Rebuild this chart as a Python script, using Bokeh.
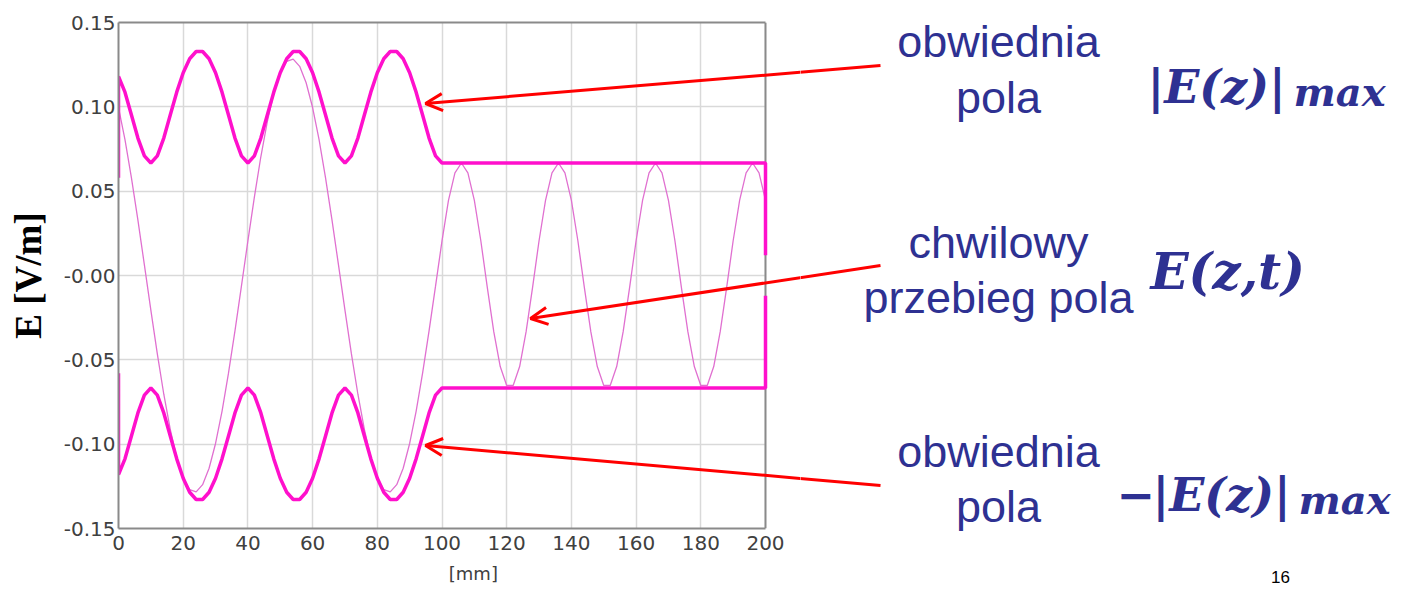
from bokeh.plotting import figure
from bokeh.layouts import row
from bokeh.models import (Label, Arrow, OpenHead, FixedTicker, Range1d, LinearAxis,
                          Span, BoxAnnotation)
from bokeh.embed import file_html
from bokeh.resources import INLINE

# ---------------- data ----------------
x_ticks = [0, 20, 40, 60, 80, 100, 120, 140, 160, 180, 200]
y_ticks = [-0.15, -0.10, -0.05, 0.0, 0.05, 0.10, 0.15]
y_tick_labels = ["-0.15", "-0.10", "-0.05", "-0.00", "0.05", "0.10", "0.15"]
x_unit_label = "[mm]"
x_unit_pos = 109.7   # z position under which the unit label sits
z_min, z_max = 0, 200
e_min, e_max = -0.15, 0.15

# position along the line [mm]
z_env = [0, 0, 2, 4, 6, 8, 10, 12, 14, 16, 18, 20, 22, 24, 26, 28,
         30, 32, 34, 36, 38, 40, 42, 44, 46, 48, 50, 52, 54, 56, 58,
         60, 62, 64, 66, 68, 70, 72, 74, 76, 78, 80, 82, 84, 86, 88,
         90, 92, 94, 96, 98, 100, 200, 200]
# envelope |E(z)|max [V/m]
env_upper = [0.058, 0.1180, 0.1087, 0.0951, 0.0815, 0.0709, 0.0667, 0.0709, 0.0815, 0.0951, 0.1087,
             0.1202, 0.1285, 0.1328, 0.1328, 0.1285,
             0.1202, 0.1087, 0.0951, 0.0815, 0.0709, 0.0667, 0.0709, 0.0815, 0.0951, 0.1087,
             0.1202, 0.1285, 0.1328, 0.1328, 0.1285,
             0.1202, 0.1087, 0.0951, 0.0815, 0.0709, 0.0667, 0.0709, 0.0815, 0.0951, 0.1087,
             0.1202, 0.1285, 0.1328, 0.1328, 0.1285,
             0.1202, 0.1087, 0.0951, 0.0815, 0.0709, 0.0667, 0.0667, 0.012]
env_lower = [-v for v in env_upper]

# instantaneous field E(z,t) [V/m]
z_inst = [0, 2, 4, 6, 8, 10, 12, 14, 16, 18, 20, 22, 24, 26, 28, 30, 32, 34, 36, 38,
          40, 42, 44, 46, 48, 50, 52, 54, 56, 58, 60, 62, 64, 66, 68, 70, 72, 74, 76, 78,
          80, 82, 84, 86, 88, 90, 92, 94, 96, 98, 100, 102, 104, 106, 108, 110, 112, 114, 116, 118,
          120, 122, 124, 126, 128, 130, 132, 134, 136, 138, 140, 142, 144, 146, 148, 150, 152, 154, 156, 158,
          160, 162, 164, 166, 168, 170, 172, 174, 176, 178, 180, 182, 184, 186, 188, 190, 192, 194, 196, 198, 200]
e_inst = [0.0996, 0.0805, 0.0579, 0.0328, 0.0063, -0.0205, -0.0465, -0.0704, -0.0912, -0.1080,
          -0.1201, -0.1270, -0.1283, -0.1240, -0.1143, -0.0996, -0.0805, -0.0579, -0.0328, -0.0063,
          0.0205, 0.0465, 0.0704, 0.0912, 0.1080, 0.1201, 0.1270, 0.1283, 0.1240, 0.1143,
          0.0996, 0.0805, 0.0579, 0.0328, 0.0063, -0.0205, -0.0465, -0.0704, -0.0912, -0.1080,
          -0.1201, -0.1270, -0.1283, -0.1240, -0.1143, -0.0996, -0.0805, -0.0579, -0.0328, -0.0063,
          0.0205,
          0.0446, 0.0609, 0.0667, 0.0609, 0.0446, 0.0206, -0.0070, -0.0333, -0.0540, -0.0652,
          -0.0652, -0.0540, -0.0333, -0.0070, 0.0206,
          0.0446, 0.0609, 0.0667, 0.0609, 0.0446, 0.0206, -0.0070, -0.0333, -0.0540, -0.0652,
          -0.0652, -0.0540, -0.0333, -0.0070, 0.0206,
          0.0446, 0.0609, 0.0667, 0.0609, 0.0446, 0.0206, -0.0070, -0.0333, -0.0540, -0.0652,
          -0.0652, -0.0540, -0.0333, -0.0070, 0.0206,
          0.0446, 0.0609, 0.0667, 0.0609, 0.0446]

# ---------------- layout helpers (page pixels -> data) ----------------
H = 586
X0, XPX = 118.0, 3.235          # page px of z=0, px per mm
Y0, YPX = 22.0, 1686.7          # page px of E=0.15, px per V/m
SPLIT = 800                     # page x where the chart canvas ends


def dx(px):
    return (px - X0) / XPX


def dy(py):
    return 0.15 - (py - Y0) / YPX


GRAY = "#8a8a8a"
TICKFONT = "DejaVu Sans"
TICKCOL = "#404040"

# ---------------- main chart ----------------
p = figure(frame_width=SPLIT - 118, frame_height=506,
           min_border_left=118, min_border_right=0,
           min_border_top=22, min_border_bottom=H - 22 - 506,
           x_range=Range1d(z_min, dx(SPLIT)), y_range=Range1d(e_min, e_max),
           output_backend="svg", toolbar_location=None)
p.frame_align = False
p.background_fill_color = "white"
p.border_fill_color = "white"
p.outline_line_color = None

for ax in (p.xaxis, p.yaxis):
    ax.axis_line_color = GRAY
    ax.axis_line_width = 2
    ax.major_tick_in = 0
    ax.major_tick_out = 0
    ax.minor_tick_line_color = None
    ax.major_label_text_font = TICKFONT
    ax.major_label_text_font_size = "20px"
    ax.major_label_text_color = TICKCOL

p.xaxis.bounds = (z_min, z_max)
p.xaxis.ticker = FixedTicker(ticks=x_ticks)
p.yaxis.ticker = FixedTicker(ticks=y_ticks)
p.yaxis.major_label_overrides = dict(zip(y_ticks, y_tick_labels))
p.xaxis.major_label_standoff = 7
p.yaxis.major_label_standoff = 3

p.yaxis.axis_label = "E [V/m]"
p.yaxis.axis_label_text_font = "Liberation Serif"
p.yaxis.axis_label_text_font_style = "bold"
p.yaxis.axis_label_text_font_size = "37px"
p.yaxis.axis_label_text_color = "black"
p.yaxis.axis_label_standoff = 12

# top border of the plot area
top_axis = LinearAxis(ticker=FixedTicker(ticks=[]), bounds=(z_min, z_max))
top_axis.axis_line_color = GRAY
top_axis.axis_line_width = 2
top_axis.major_tick_line_color = None
top_axis.minor_tick_line_color = None
p.add_layout(top_axis, "above")

# unit label as a second, line-less axis under the first one
unit_axis = LinearAxis(ticker=FixedTicker(ticks=[x_unit_pos]),
                       major_label_overrides={x_unit_pos: x_unit_label})
unit_axis.axis_line_color = None
unit_axis.major_tick_line_color = None
unit_axis.minor_tick_line_color = None
unit_axis.major_label_text_font = TICKFONT
unit_axis.major_label_text_font_size = "18px"
unit_axis.major_label_text_color = TICKCOL
unit_axis.major_label_standoff = 4
p.add_layout(unit_axis, "below")

p.xgrid.grid_line_color = "#d9d9d9"
p.ygrid.grid_line_color = "#d9d9d9"
p.xgrid.grid_line_width = 1.5
p.ygrid.grid_line_width = 1.5

# white out the grid right of the plot area, then the right border
p.add_layout(BoxAnnotation(left=z_max, fill_color="white", fill_alpha=1.0,
                           line_color=None, level="underlay"))
p.add_layout(Span(location=z_max, dimension="height", line_color=GRAY,
                  line_width=2, level="underlay"))

# curves
p.line(z_inst, e_inst, line_color="#e070d0", line_width=1.3)
p.line(z_env, env_upper, line_color="#ff10cc", line_width=3.5)
p.line(z_env, env_lower, line_color="#ff10cc", line_width=3.5)

# arrows: (start x, start y, tip x, tip y) in page pixels
arrows = [(880, 65, 425, 103), (880, 265, 530, 318), (880, 485, 425, 445)]


def y_at(a, x):
    x1, y1, x2, y2 = a
    return y1 + (x1 - x) / (x1 - x2) * (y2 - y1)


RED = "#ff0000"
for a in arrows:
    ym = y_at(a, SPLIT + 1)
    p.add_layout(Arrow(end=OpenHead(size=17, line_color=RED, line_width=3),
                       x_start=dx(SPLIT + 1), y_start=dy(ym), x_end=dx(a[2]), y_end=dy(a[3]),
                       line_color=RED, line_width=3))

# ---------------- annotation panel (page pixel coordinates) ----------------
q = figure(width=1400 - SPLIT, height=H,
           x_range=Range1d(SPLIT, 1400), y_range=Range1d(H, 0),
           min_border=0, x_axis_location=None, y_axis_location=None,
           output_backend="svg", toolbar_location=None)
q.frame_align = False
q.outline_line_color = None
q.grid.visible = False
q.background_fill_color = "white"
q.border_fill_color = "white"

for a in arrows:
    ym = y_at(a, SPLIT - 2)
    q.add_layout(Arrow(end=None, x_start=a[0], y_start=a[1], x_end=SPLIT - 2, y_end=ym,
                       line_color=RED, line_width=3))

BLUE = "#2e3192"
for txt, cy in [("obwiednia", 41), ("pola", 97), ("chwilowy", 242),
                ("przebieg pola", 297), ("obwiednia", 451), ("pola", 506)]:
    q.add_layout(Label(x=998, y=cy, text=txt, text_font="Liberation Sans",
                       text_font_size="45px", text_color=BLUE,
                       text_align="center", text_baseline="middle"))

MFONT = "DejaVu Serif"
math_items = [
    ("|E(z)|", 1147, 86, "46px"), ("max", 1293, 91, "40px"),
    ("E(z,t)", 1150, 271, "50px"),
    ("\u2212", 1116, 493, "46px"), ("|E(z)|", 1152, 494, "46px"), ("max", 1298, 499, "40px"),
]
for txt, px, py, fs in math_items:
    q.add_layout(Label(x=px, y=py, text=txt, text_font=MFONT,
                       text_font_style="bold italic", text_font_size=fs, text_color=BLUE,
                       text_align="left", text_baseline="alphabetic"))

q.add_layout(Label(x=1280, y=576, text="16", text_font="Liberation Sans",
                   text_font_size="17px", text_color="black",
                   text_align="center", text_baseline="middle"))

layout = row(p, q, spacing=0)
open("out.html", "w").write(file_html(layout, INLINE))
